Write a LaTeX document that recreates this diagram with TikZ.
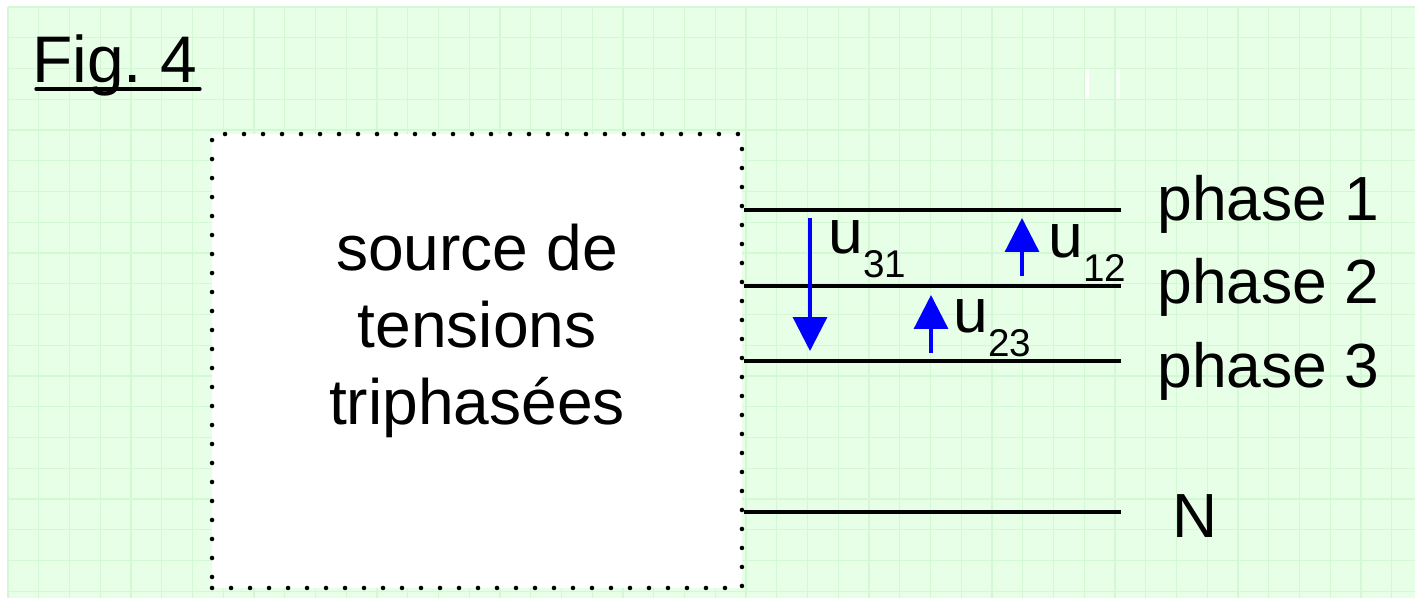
\documentclass[tikz,border=0pt]{standalone}
\usepackage{fontspec}
\setmainfont{Liberation Sans}
\usepackage{tikz}
\usetikzlibrary{arrows.meta, positioning, calc}

\definecolor{bggreen}{RGB}{230,255,230}
\definecolor{gridgreen}{RGB}{212,247,212}
\newcommand{\usub}[1]{u\raisebox{-0.39em}{\fontsize{22}{22}\selectfont #1}}

\begin{document}
\begin{tikzpicture}[x=0.02cm, y=-0.02cm,
  srcbox/.style={draw, fill=white, line width=2.6pt, line cap=round,
                 dash pattern=on 0pt off 0.38cm,
                 minimum width=10.6cm, minimum height=9.08cm, inner sep=0pt},
  srctext/.style={align=center, font=\fontsize{36.5}{43.7}\selectfont, inner sep=0pt},
  wire/.style={line width=2.2pt},
  varr/.style={-{Triangle[length=0.68cm, width=0.68cm]}, line width=1.9pt, blue},
  lbl/.style={font=\fontsize{35.5}{40}\selectfont, inner sep=0pt, anchor=base west},
  uline/.style={line width=1.9pt, line cap=round}
]
  \useasboundingbox (0,0) rectangle (1415,598);
  % background and grid
  \fill[bggreen] (8,7) rectangle (1415,598);
  \foreach \i in {0,...,45}
    \draw[gridgreen, line width=0.6pt] ({8+30.75*\i},7) -- ({8+30.75*\i},598);
  \foreach \j in {0,...,19}
    \draw[gridgreen, line width=0.6pt] (8,{7+30.75*\j}) -- (1415,{7+30.75*\j});
  \fill[white] (1085,69) rectangle (1089,99);
  \fill[bggreen!40!white] (1116,69) rectangle (1120,99);

  % title
  \node[lbl, font=\fontsize{37.5}{40}\selectfont] (title) at (32,83) {Fig.\ 4};
  \draw[uline] ($(title.base west)+(4,6)$) -- ($(title.base west)+(168,6)$);

  % source
  \node[srcbox] (src) at (477,361) {};
  \node[srctext] (srclbl) at ($(src.center)+(0,-30)$) {source de\\tensions\\triphasées};

  % lines
  \coordinate (p1) at (1121,210);
  \coordinate (p2) at (1121,286);
  \coordinate (p3) at (1121,361);
  \coordinate (pn) at (1121,512);
  \draw[wire] (src.east |- p1) -- (p1);
  \draw[wire] (src.east |- p2) -- (p2);
  \draw[wire] (src.east |- p3) -- (p3);
  \draw[wire] (src.east |- pn) -- (pn);
  \node[lbl] (ph1) at (1157,220) {phase 1};
  \node[lbl] (ph2) at (1157,303) {phase 2};
  \node[lbl] (ph3) at (1157,387) {phase 3};
  \node[lbl] (neutre) at (1172,537) {N};

  % voltages
  \coordinate (a31) at (810,218);
  \coordinate (b31) at (810,351);
  \coordinate (a23) at (931,353);
  \coordinate (b23) at (931,295);
  \coordinate (a12) at (1022,276);
  \coordinate (b12) at (1022,218);
  \draw[varr] (a31) -- (b31);
  \draw[varr] (a23) -- (b23);
  \draw[varr] (a12) -- (b12);
  \node[lbl] (u31) at (828,253) {\usub{31}};
  \node[lbl] (u23) at (953,332) {\usub{23}};
  \node[lbl] (u12) at (1048,257) {\usub{12}};
\end{tikzpicture}
\end{document}
